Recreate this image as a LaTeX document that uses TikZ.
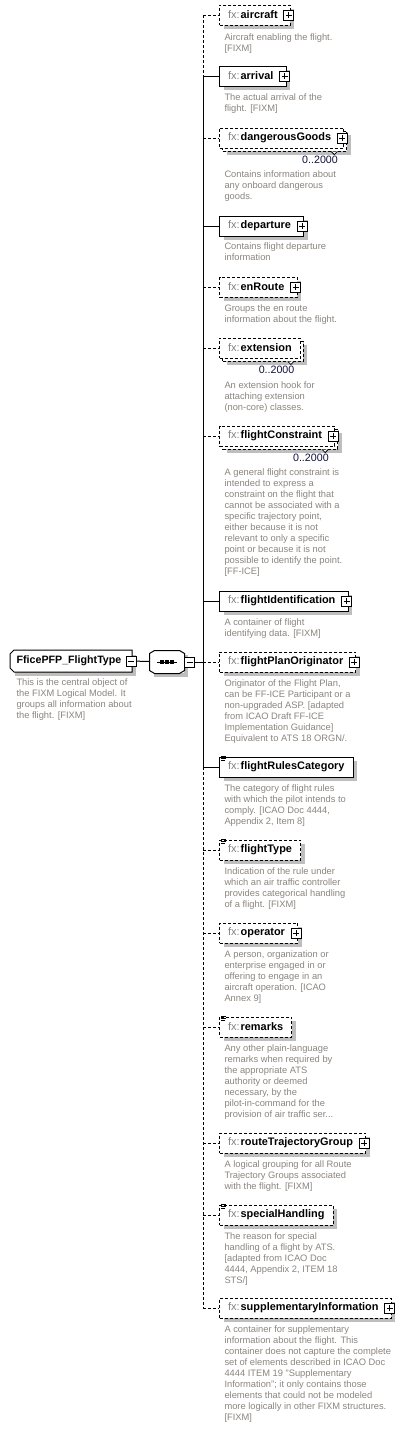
\documentclass[tikz,border=0pt]{standalone}
\usepackage{fontspec}
\setmainfont{Liberation Sans}
\usetikzlibrary{positioning,shadows}

\definecolor{fxgray}{RGB}{128,128,128}
\definecolor{descgray}{RGB}{138,132,126}
\definecolor{shadowgray}{RGB}{190,190,190}
\definecolor{multnavy}{RGB}{16,16,64}

\tikzset{
  optline/.style={dash pattern=on 2.25pt off 1.5pt},
  boxshadow/.style={general shadow={shadow xshift=3pt, shadow yshift=-3pt, fill=shadowgray}},
  elem/.style={draw, fill=white, anchor=west, minimum height=15pt,
    inner xsep=6.5pt, inner ysep=0pt, font=\fontsize{8.2}{10}\selectfont,
    execute at begin node={{\mdseries\color{fxgray}fx:}\kern0.7pt\bfseries}, boxshadow},
  req/.style={elem},
  opt/.style={elem, optline},
  multi/.style={general shadow={shadow xshift=5.25pt, shadow yshift=-5.25pt, fill=shadowgray},
    general shadow={shadow xshift=2.25pt, shadow yshift=-2.25pt, fill=white, draw, optline}},
  haschild/.style={execute at end node=\hspace{3pt}},
  pmbox/.style={draw, solid, fill=white, minimum size=7.5pt, inner sep=0pt},
  plusbox/.style={pmbox, path picture={
    \draw ([yshift=-1.5pt]path picture bounding box.north) -- ([yshift=1.5pt]path picture bounding box.south);
    \draw ([xshift=1.5pt]path picture bounding box.west) -- ([xshift=-1.5pt]path picture bounding box.east);}},
  minusbox/.style={pmbox, path picture={
    \draw ([xshift=1.5pt]path picture bounding box.west) -- ([xshift=-1.5pt]path picture bounding box.east);}},
  mult/.style={anchor=east, inner sep=0pt, text=multnavy, font=\fontsize{8}{9.6}\selectfont},
  desc/.style={anchor=north west, align=left, inner sep=0pt, text=descgray,
    font=\fontsize{7}{8.25}\selectfont}
}

\begin{document}
\begin{tikzpicture}[x=0.75pt, y=-0.75pt, line width=0.75pt]
  \useasboundingbox (0,0) rectangle (407,1429);

  % root type and sequence
  \node[fill=white, anchor=west, minimum width=90.75pt, minimum height=15.75pt, inner ysep=0pt,
    font=\fontsize{8}{10}\selectfont\bfseries, execute at end node=\hspace{3pt}, boxshadow] (root) at (10,661) {FficePFP\_FlightType};
  \draw ([xshift=3pt]root.north west) -- (root.north east) -- (root.south east) -- ([xshift=3pt]root.south west)
    -- ([yshift=3pt]root.south west) -- ([yshift=-3pt]root.north west) -- cycle;
  \node[minusbox] (root-m) at ([xshift=-0.5pt]root.east) {};
  \node[desc] (root-d) at (16,678) {This is the central object of\\the FIXM Logical Model. It\\groups all information about\\the flight. [FIXM]};

  \node[fill=white, minimum width=25.5pt, minimum height=16.5pt, inner sep=0pt, boxshadow] (seq) at (167,662) {};
  \draw ([xshift=3.75pt]seq.north west) -- ([xshift=-3.75pt]seq.north east) -- ([yshift=-2.25pt]seq.north east)
    -- ([yshift=2.25pt]seq.south east) -- ([xshift=-3.75pt]seq.south east) -- ([xshift=3.75pt]seq.south west)
    -- ([yshift=2.25pt]seq.south west) -- ([yshift=-2.25pt]seq.north west) -- cycle;
  \draw (seq.center) +(-7.5pt,0) -- +(7.5pt,0);
  \foreach \dx in {-3.75,0,3.75}
    \fill ([xshift=\dx pt]seq.center) +(-1.2pt,-1.2pt) rectangle +(1.2pt,1.2pt);
  \node[minusbox] (seq-m) at ([xshift=3.75pt]seq.east) {};

  % trunk
  \foreach \n/\y in {aircraft/15, arrival/76, dangerousGoods/138, departure/226, enRoute/287,
      extension/348, flightConstraint/436, flightIdentification/601, flightPlanOriginator/662,
      flightRulesCategory/767, flightType/850, operator/933, remarks/1027,
      routeTrajectoryGroup/1143, specialHandling/1215, supplementaryInformation/1308}
    \coordinate (t-\n) at (203,\y);
  \draw (root-m) -- (seq);
  \draw (seq-m) -- (t-flightPlanOriginator);
  \draw[optline] (t-aircraft) -- (t-arrival);
  \draw (t-arrival) -- (t-flightRulesCategory);
  \draw[optline] (t-flightRulesCategory) -- (t-supplementaryInformation);

  % child elements
  \node[opt, haschild] (aircraft) at (219,15) {aircraft};
  \node[req, haschild] (arrival) at (219,76) {arrival};
  \node[opt, multi, haschild] (dangerousGoods) at (219,138) {dangerousGoods};
  \node[req, haschild] (departure) at (219,226) {departure};
  \node[opt, haschild] (enRoute) at (219,287) {enRoute};
  \node[opt, multi] (extension) at (219,348) {extension};
  \node[opt, multi, haschild] (flightConstraint) at (219,436) {flightConstraint};
  \node[req, haschild] (flightIdentification) at (219,601) {flightIdentification};
  \node[opt, haschild] (flightPlanOriginator) at (219,662) {flightPlanOriginator};
  \node[req] (flightRulesCategory) at (219,767) {flightRulesCategory};
  \node[opt] (flightType) at (219,850) {flightType};
  \node[opt, haschild] (operator) at (219,933) {operator};
  \node[opt] (remarks) at (219,1027) {remarks};
  \node[opt, haschild] (routeTrajectoryGroup) at (219,1143) {routeTrajectoryGroup};
  \node[opt] (specialHandling) at (219,1215) {specialHandling};
  \node[opt, haschild] (supplementaryInformation) at (219,1308) {supplementaryInformation};

  \foreach \n in {arrival, departure, flightIdentification, flightRulesCategory}
    \draw (t-\n) -- (\n);
  \foreach \n in {aircraft, dangerousGoods, enRoute, extension, flightConstraint, flightPlanOriginator,
      flightType, operator, remarks, routeTrajectoryGroup, specialHandling, supplementaryInformation}
    \draw[optline] (t-\n) -- (\n);

  \foreach \n in {aircraft, arrival, dangerousGoods, departure, enRoute, flightConstraint, flightIdentification,
      flightPlanOriginator, operator, routeTrajectoryGroup, supplementaryInformation}
    \node[plusbox] (\n-p) at ([xshift=-1.5pt]\n.east) {};

  % simple content marks
  \foreach \n in {flightRulesCategory, flightType, remarks, specialHandling} {
    \draw[line width=0.6pt] ([xshift=1.5pt]\n.north west) -- ++(3.75pt,0);
    \draw[line width=0.6pt] ([xshift=1.5pt,yshift=-1.5pt]\n.north west) -- ++(3.75pt,0);
    \draw[line width=0.6pt] ([xshift=1.5pt,yshift=-3pt]\n.north west) -- ++(3pt,0);
  }

  % occurrences
  \foreach \n in {dangerousGoods, extension, flightConstraint} {
    \filldraw[fill=white, line width=0.6pt] ([xshift=-9.75pt,yshift=-2.25pt]\n.south east) -- ++(2.25pt,-2.25pt) -- ++(2.25pt,2.25pt);
    \node[mult] (\n-n) at ([xshift=-4.5pt,yshift=-16.5pt]\n.east) {0..2000};
  }

  % annotations
  \node[desc] (aircraft-d) at (224,33) {Aircraft enabling the flight.\\{[FIXM]}};
  \node[desc] (arrival-d) at (224,93) {The actual arrival of the\\flight. [FIXM]};
  \node[desc] (dangerousGoods-d) at (224,170) {Contains information about\\any onboard dangerous\\goods.};
  \node[desc] (departure-d) at (224,242) {Contains flight departure\\information};
  \node[desc] (enRoute-d) at (224,304) {Groups the en route\\information about the flight.};
  \node[desc] (extension-d) at (224,381) {An extension hook for\\attaching extension\\(non-core) classes.};
  \node[desc] (flightConstraint-d) at (224,468) {A general flight constraint is\\intended to express a\\constraint on the flight that\\cannot be associated with a\\specific trajectory point,\\either because it is not\\relevant to only a specific\\point or because it is not\\possible to identify the point.\\{[FF-ICE]}};
  \node[desc] (flightIdentification-d) at (224,618) {A container of flight\\identifying data. [FIXM]};
  \node[desc] (flightPlanOriginator-d) at (224,679) {Originator of the Flight Plan,\\can be FF-ICE Participant or a\\non-upgraded ASP. [adapted\\from ICAO Draft FF-ICE\\Implementation Guidance]\\Equivalent to ATS 18 ORGN/.};
  \node[desc] (flightRulesCategory-d) at (224,784) {The category of flight rules\\with which the pilot intends to\\comply. [ICAO Doc 4444,\\Appendix 2, Item 8]};
  \node[desc] (flightType-d) at (224,867) {Indication of the rule under\\which an air traffic controller\\provides categorical handling\\of a flight. [FIXM]};
  \node[desc] (operator-d) at (224,950) {A person, organization or\\enterprise engaged in or\\offering to engage in an\\aircraft operation. [ICAO\\Annex 9]};
  \node[desc] (remarks-d) at (224,1044) {Any other plain-language\\remarks when required by\\the appropriate ATS\\authority or deemed\\necessary, by the\\pilot-in-command for the\\provision of air traffic ser...};
  \node[desc] (routeTrajectoryGroup-d) at (224,1160) {A logical grouping for all Route\\Trajectory Groups associated\\with the flight. [FIXM]};
  \node[desc] (specialHandling-d) at (224,1232) {The reason for special\\handling of a flight by ATS.\\{[adapted from ICAO Doc}\\4444, Appendix 2, ITEM 18\\STS/]};
  \node[desc] (supplementaryInformation-d) at (224,1325) {A container for supplementary\\information about the flight. This\\container does not capture the complete\\set of elements described in ICAO Doc\\4444 ITEM 19 "Supplementary\\Information"; it only contains those\\elements that could not be modeled\\more logically in other FIXM structures.\\{[FIXM]}};
\end{tikzpicture}
\end{document}
